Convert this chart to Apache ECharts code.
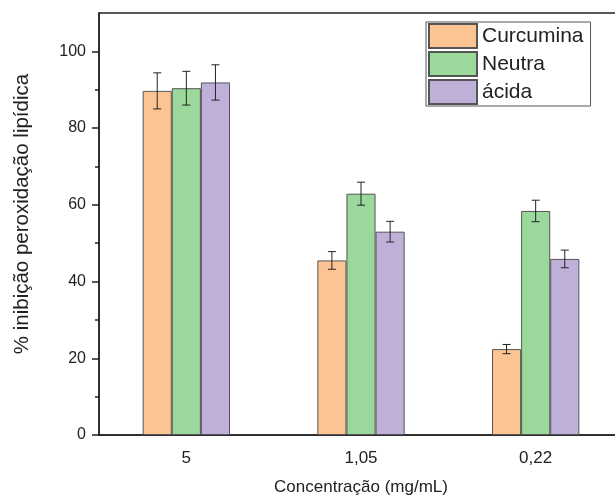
<!DOCTYPE html>
<html>
<head>
<meta charset="utf-8">
<script src="https://cdn.jsdelivr.net/npm/echarts@6/dist/echarts.min.js"></script>
<style>html,body{margin:0;padding:0;background:#fff}#c{width:615px;height:501px}</style>
</head>
<body>
<div id="c"></div>
<script>
var categories = ['5', '1,05', '0,22'];
var seriesNames = ['Curcumina', 'Neutra', 'ácida'];
var curcumina = [89.7, 45.5, 22.4];
var neutra = [90.4, 62.9, 58.4];
var acida = [91.9, 53.0, 45.9];
var curcuminaErr = [4.7, 2.3, 1.2];
var neutraErr = [4.4, 3.0, 2.8];
var acidaErr = [4.6, 2.7, 2.3];
var yMajorTicks = [0, 20, 40, 60, 80, 100];
var yMinorTicks = [10, 30, 50, 70, 90];

var colors = ['#FCC493', '#9BD89B', '#BEB0D8'];
var values = [curcumina, neutra, acida];
var errs = [curcuminaErr, neutraErr, acidaErr];

var font = 'Liberation Sans, Arial, sans-serif';
var chart = echarts.init(document.getElementById('c'), null, {renderer: 'canvas'});

var series = [];
values.forEach(function (v, i) {
  series.push({
    name: seriesNames[i],
    type: 'bar',
    data: v,
    barGap: '0%',
    barCategoryGap: '50%',
    itemStyle: {color: colors[i], borderColor: '#555', borderWidth: 1},
    z: 2
  });
});
values.forEach(function (v, i) {
  var data = v.map(function (val, j) { return [j, val - errs[i][j], val + errs[i][j]]; });
  series.push({
    type: 'custom',
    name: 'err' + i,
    data: data,
    z: 5,
    silent: true,
    encode: {x: 0, y: [1, 2]},
    renderItem: function (params, api) {
      var idx = api.value(0);
      var lo = api.coord([idx, api.value(1)]);
      var hi = api.coord([idx, api.value(2)]);
      var catW = api.size([1, 0])[0];
      var bw = catW * 0.5 / 3;
      var x = lo[0] + (i - 1) * bw;
      var cap = 4;
      var style = {stroke: '#222', lineWidth: 1};
      return {
        type: 'group',
        children: [
          {type: 'line', shape: {x1: x, y1: lo[1], x2: x, y2: hi[1]}, style: style},
          {type: 'line', shape: {x1: x - cap, y1: lo[1], x2: x + cap, y2: lo[1]}, style: style},
          {type: 'line', shape: {x1: x - cap, y1: hi[1], x2: x + cap, y2: hi[1]}, style: style}
        ]
      };
    }
  });
});

chart.setOption({
  animation: false,
  backgroundColor: '#fff',
  grid: {left: 99, top: 13, width: 524, height: 422, outerBoundsMode: 'none', containLabel: false, show: true, borderColor: '#222', borderWidth: 1.5, backgroundColor: 'transparent'},
  legend: {
    data: seriesNames,
    orient: 'vertical',
    left: 426,
    top: 22,
    itemWidth: 48,
    itemHeight: 24,
    itemGap: 2,
    padding: [1, 7, 1, 2],
    borderColor: '#555',
    borderWidth: 1,
    icon: 'rect',
    textStyle: {fontFamily: font, fontSize: 21, color: '#222', lineHeight: 22}
  },
  xAxis: [{
    type: 'category',
    data: categories,
    position: 'bottom',
    axisLine: {lineStyle: {color: '#222', width: 1.5}},
    axisTick: {alignWithLabel: true, length: 7, lineStyle: {color: '#222', width: 1.5}},
    axisLabel: {fontFamily: font, fontSize: 17, color: '#222', margin: 15},
    name: 'Concentração (mg/mL)',
    nameLocation: 'middle',
    nameGap: 44,
    nameTextStyle: {fontFamily: font, fontSize: 17, color: '#222'}
  }, {
    type: 'category',
    data: categories,
    position: 'bottom',
    axisLine: {show: false},
    axisTick: {length: 4, lineStyle: {color: '#222', width: 1.5}},
    axisLabel: {show: false}
  }],
  yAxis: [{
    type: 'value',
    min: 0,
    max: 110,
    interval: 10,
    axisLine: {show: true, lineStyle: {color: '#222', width: 1.5}},
    axisTick: {show: true, length: 7, customValues: yMajorTicks, lineStyle: {color: '#222', width: 1.5}},
    axisLabel: {fontFamily: font, fontSize: 16, color: '#222', margin: 13, customValues: yMajorTicks},
    splitLine: {show: false},
    name: '% inibição peroxidação lipídica',
    nameLocation: 'middle',
    nameGap: 66,
    nameTextStyle: {fontFamily: font, fontSize: 20.5, color: '#222', padding: [0, 0, 0, 20]}
  }, {
    type: 'value',
    min: 0,
    max: 110,
    interval: 10,
    position: 'left',
    axisLine: {show: false},
    axisTick: {show: true, length: 4, customValues: yMinorTicks, lineStyle: {color: '#222', width: 1.5}},
    axisLabel: {show: false},
    splitLine: {show: false}
  }],
  series: series
});
</script>
</body>
</html>
